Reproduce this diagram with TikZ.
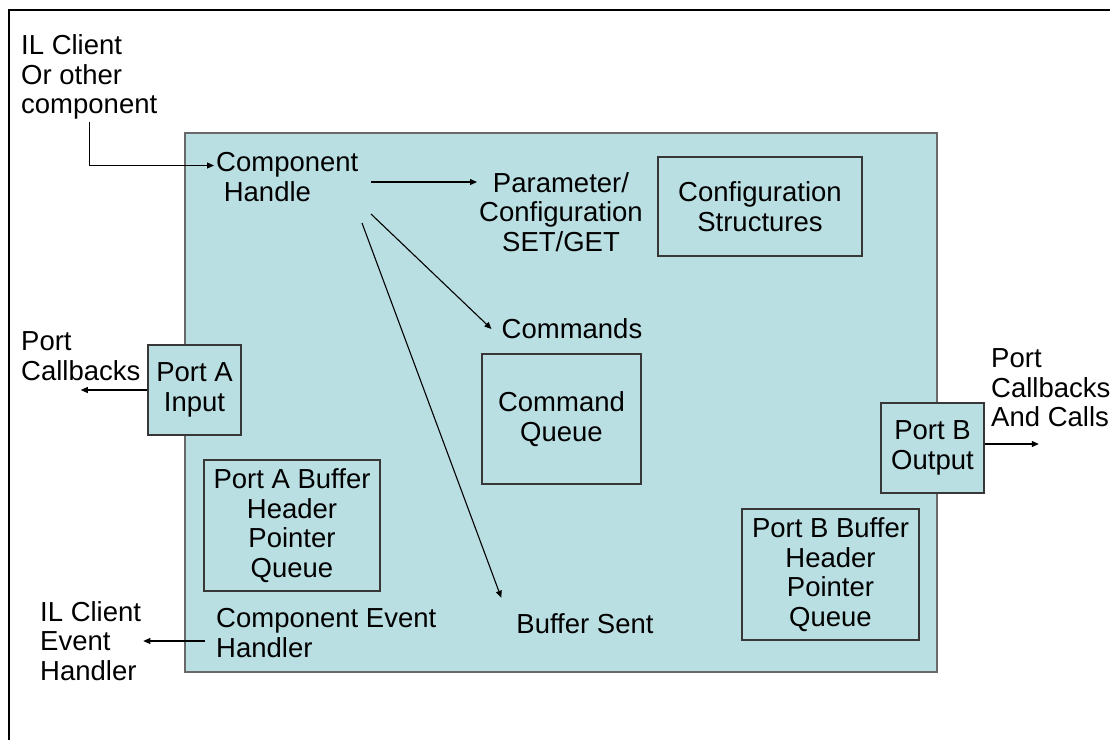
\documentclass[tikz,border=0pt]{standalone}
\usepackage{fontspec}
\setmainfont{Liberation Sans}
\usetikzlibrary{arrows.meta}
\definecolor{compfill}{RGB}{186,223,227}
\definecolor{boxline}{RGB}{55,55,55}
\begin{document}
\begin{tikzpicture}[x=1pt, y=-1pt, font=\fontsize{27.5}{29.5}\selectfont]
            \useasboundingbox (0,0) rectangle (1110,740);
            \draw[line width=2.2pt] (9,740) -- (9,10) -- (1110,10);

            \node[draw=boxline!75, fill=compfill, line width=1.5pt,
                minimum width=752pt, minimum height=539pt] (comp) at (561,402.5) {};

            \begin{scope}[
                    every node/.style={draw=boxline, fill=compfill, line width=1.2pt,
                        align=center, inner sep=0pt}
                ]
                \node[minimum width=204pt, minimum height=99pt] (cfg) at (760,206.5) {Configuration\\Structures};
                \node[minimum width=159pt, minimum height=130pt] (cmdq) at (561.5,419) {Command\\Queue};
                \node[minimum width=93pt, minimum height=90pt] (porta) at (194.5,390) {Port A\\Input};
                \node[minimum width=176pt, minimum height=131pt] (bufa) at (292,525.5) {Port A Buffer\\Header\\Pointer\\Queue};
                \node[minimum width=103pt, minimum height=90pt] (portb) at (932.5,448) {Port B\\Output};
                \node[minimum width=177pt, minimum height=131pt] (bufb) at (830.5,574.5) {Port B Buffer\\Header\\Pointer\\Queue};
            \end{scope}

            \begin{scope}[
                    every node/.style={inner sep=2pt, align=left}
                ]
                \node[anchor=west] (ilc) at (19,77) {IL Client\\Or other\\component};
                \node[anchor=west] (handle) at (214,177) {Component\\\ Handle};
                \node[align=center] (param) at (561,212) {Parameter/\\Configuration\\SET/GET};
                \node (cmds) at (572,329) {Commands};
                \node (sent) at (585,624) {Buffer Sent};
                \node[anchor=west] (cba) at (19,356) {Port\\Callbacks};
                \node[anchor=west] (evh) at (214,633) {Component Event\\Handler};
                \node[anchor=west] (ilev) at (38,641) {IL Client\\Event\\Handler};
                \node[anchor=west] (cbb) at (989,388) {Port\\Callbacks\\And Calls};
            \end{scope}

            \coordinate (h1) at (371,182);
            \coordinate (h2) at (371,214);
            \coordinate (h3) at (362,223);

            \begin{scope}[
                    every edge/.style={draw, line width=1.1pt, -{Triangle[length=7pt,width=6pt]}}
                ]
                \draw (ilc.south) edge[to path={|- (\tikztotarget)}] ([yshift=11.5pt]handle.west);
                \draw (h1) edge (h1 -| param.west);
                \draw (h2) edge ([xshift=-8pt]cmds.west);
                \draw (h3) edge ([shift={(-13pt,14pt)}]sent.north west);
                \draw (porta.west) edge (porta.west -| cba);
                \draw ([yshift=4pt]portb.east) edge ([xshift=-12pt,yshift=4pt]portb.east -| cbb);
                \draw ([xshift=-9pt]evh.west |- ilev.east) edge (ilev.east);
            \end{scope}

        \end{tikzpicture}
\end{document}
